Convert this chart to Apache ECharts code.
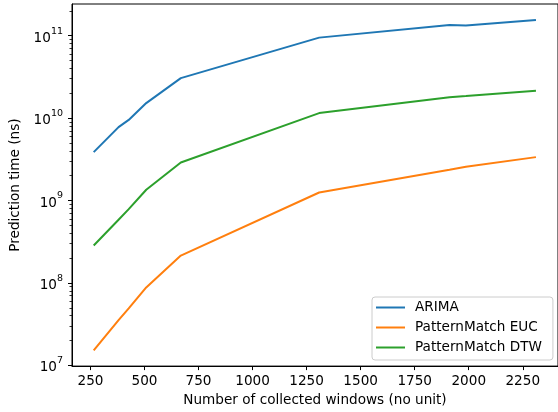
<!DOCTYPE html>
<html>
<head>
<meta charset="utf-8">
<script src="https://cdn.jsdelivr.net/npm/echarts@6/dist/echarts.min.js"></script>
<style>
html,body{margin:0;padding:0;background:#fff;}
#chart{width:558px;height:412px;}
</style>
</head>
<body>
<div id="chart"></div>
<script>
// Data
var windows = [265, 380, 427, 508, 668, 1308, 1911, 1987, 2311];
var arima = [3.86e9, 7.76e9, 9.5e9, 1.52e10, 3.05e10, 9.46e10, 1.35e11, 1.33e11, 1.55e11];
var patternEuc = [1.52e7, 3.53e7, 4.92e7, 8.82e7, 2.15e8, 1.25e9, 2.36e9, 2.57e9, 3.36e9];
var patternDtw = [2.85e8, 5.85e8, 7.85e8, 1.35e9, 2.89e9, 1.15e10, 1.79e10, 1.85e10, 2.15e10];
var seriesNames = ['ARIMA', 'PatternMatch EUC', 'PatternMatch DTW'];
var xTicks = [250, 500, 750, 1000, 1250, 1500, 1750, 2000, 2250];
var yExponents = [7, 8, 9, 10, 11];

var FONT = 'DejaVu Sans';
var FS = 13.6;
var yMajor = yExponents.map(function (e) { return Math.pow(10, e); });
var yMinor = [];
yExponents.forEach(function (e) {
  for (var k = 2; k <= 9; k++) yMinor.push(k * Math.pow(10, e));
});
var yMin = 9.8e6, yMax = 2.42e11;
yMinor = yMinor.filter(function (v) { return v < yMax; });

function pairs(ys) { return windows.map(function (x, i) { return [x, ys[i]]; }); }

var colors = ['#1f77b4', '#ff7f0e', '#2ca02c'];
var chart = echarts.init(document.getElementById('chart'), null, {renderer: 'canvas'});
chart.setOption({
  animation: false,
  backgroundColor: '#fff',
  color: colors,
  textStyle: {fontFamily: FONT},
  grid: {left: 72, top: 4, width: 489, height: 363, show: true, borderColor: '#000', borderWidth: 1, backgroundColor: 'transparent'},
  legend: {
    orient: 'vertical',
    left: 372, top: 297,
    data: seriesNames.map(function (n) { return {name: n, icon: 'rect'}; }),
    itemWidth: 29, itemHeight: 2, itemGap: 5,
    padding: [3, 11, 5, 4],
    backgroundColor: '#fff',
    borderColor: '#cccccc', borderWidth: 1, borderRadius: 3,
    textStyle: {fontFamily: FONT, fontSize: FS, color: '#000', lineHeight: 15, padding: [0, 0, 0, 5]}
  },
  xAxis: {
    type: 'value',
    min: 164.6, max: 2413,
    name: 'Number of collected windows (no unit)',
    nameLocation: 'middle', nameGap: 26,
    nameTextStyle: {fontFamily: FONT, fontSize: FS, color: '#000'},
    axisLine: {show: true, onZero: false, lineStyle: {color: '#000', width: 1}},
    axisTick: {show: true, length: 4, lineStyle: {color: '#000'}, customValues: xTicks},
    axisLabel: {fontFamily: FONT, fontSize: FS, color: '#000', margin: 8, customValues: xTicks,
      formatter: function (v) { return String(Math.round(v)); }},
    splitLine: {show: false}
  },
  yAxis: [{
    type: 'log',
    logBase: 10,
    min: yMin, max: yMax,
    name: 'Prediction time (ns)',
    nameLocation: 'middle', nameGap: 43,
    nameTextStyle: {fontFamily: FONT, fontSize: FS, color: '#000'},
    axisLine: {show: true, onZero: false, lineStyle: {color: '#000', width: 1}},
    axisTick: {show: true, length: 4, lineStyle: {color: '#000'}, customValues: yMajor},
    axisLabel: {
      margin: 9,
      customValues: yMajor,
      formatter: function (v) {
        var e = Math.round(Math.log(v) / Math.LN10);
        return '{b|10}{s|' + e + '}';
      },
      rich: {
        b: {fontFamily: FONT, fontSize: FS, color: '#000', lineHeight: 19, verticalAlign: 'bottom'},
        s: {fontFamily: FONT, fontSize: 9.5, color: '#000', lineHeight: 19, verticalAlign: 'top'}
      }
    },
    splitLine: {show: false},
    minorSplitLine: {show: false}
  }, {
    type: 'log',
    logBase: 10,
    min: yMin, max: yMax,
    position: 'left',
    axisLine: {show: false},
    axisTick: {show: true, length: 2.5, lineStyle: {color: '#000', width: 0.8}, customValues: yMinor},
    axisLabel: {show: false},
    splitLine: {show: false}
  }],
  series: [
    {name: seriesNames[0], type: 'line', data: pairs(arima), showSymbol: false, symbol: 'none', lineStyle: {width: 2, color: colors[0]}, itemStyle: {color: colors[0]}},
    {name: seriesNames[1], type: 'line', data: pairs(patternEuc), showSymbol: false, symbol: 'none', lineStyle: {width: 2, color: colors[1]}, itemStyle: {color: colors[1]}},
    {name: seriesNames[2], type: 'line', data: pairs(patternDtw), showSymbol: false, symbol: 'none', lineStyle: {width: 2, color: colors[2]}, itemStyle: {color: colors[2]}}
  ]
});
</script>
</body>
</html>
